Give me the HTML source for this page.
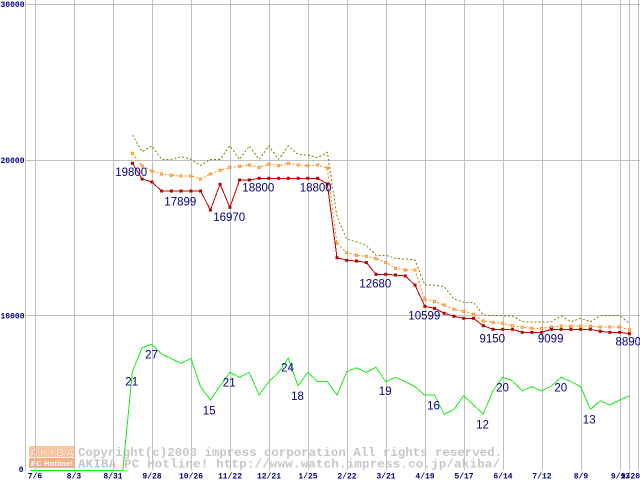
<!DOCTYPE html>
<html>
<head>
<meta charset="utf-8">
<style>
html,body{margin:0;padding:0;background:#fff;}
svg{display:block;}
.ax{font-family:"Liberation Mono",monospace;font-weight:bold;font-size:8px;fill:#000080;}
.lb{font-family:"Liberation Sans",sans-serif;font-size:11.5px;fill:#000080;}
.wm{font-family:"Liberation Mono",monospace;font-weight:bold;font-size:12.4px;fill:#c6c6c6;}
</style>
</head>
<body>
<svg width="640" height="480" viewBox="0 0 640 480" xmlns="http://www.w3.org/2000/svg">
<defs>
<marker id="mr" markerWidth="6" markerHeight="6" refX="3" refY="3" markerUnits="userSpaceOnUse">
<rect x="1.5" y="1.5" width="3" height="3" fill="#b80000"/>
</marker>
<marker id="mo" markerWidth="6" markerHeight="6" refX="3" refY="3" markerUnits="userSpaceOnUse">
<rect x="2" y="2" width="2" height="2" fill="#fff" stroke="#ff8a10" stroke-width="1" stroke-dasharray="none"/>
</marker>
</defs>
<rect x="0" y="0" width="640" height="480" fill="#fff"/>

<!-- watermark -->
<rect x="29" y="446" width="46" height="11" fill="#fbc8a2"/>
<text x="30" y="456" font-family="Liberation Sans, sans-serif" font-weight="bold" font-size="11" fill="#fff" stroke="#f2a878" stroke-width="0.5" textLength="44" lengthAdjust="spacing">AKIBA</text>
<rect x="29" y="458" width="46" height="10" fill="#f6ad80"/>
<text x="31" y="466" font-family="Liberation Sans, sans-serif" font-weight="bold" font-size="7.5" fill="#fff" textLength="42" lengthAdjust="spacing">PC Hotline!</text>
<text class="wm" x="78" y="456" textLength="424" lengthAdjust="spacing">Copyright(c)2003 impress corporation All rights reserved.</text>
<text class="wm" x="78" y="467.5" textLength="422" lengthAdjust="spacing">AKIBA PC Hotline!  http://www.watch.impress.co.jp/akiba/</text>

<!-- grid -->
<g stroke="#c0c0c0" stroke-width="1" shape-rendering="crispEdges">
<line x1="25.5" y1="0" x2="25.5" y2="471"/>
<line x1="35.5" y1="0" x2="35.5" y2="470"/>
<line x1="74.5" y1="0" x2="74.5" y2="470"/>
<line x1="113.5" y1="0" x2="113.5" y2="470"/>
<line x1="152.5" y1="0" x2="152.5" y2="470"/>
<line x1="191.5" y1="0" x2="191.5" y2="470"/>
<line x1="230.5" y1="0" x2="230.5" y2="470"/>
<line x1="269.5" y1="0" x2="269.5" y2="470"/>
<line x1="308.5" y1="0" x2="308.5" y2="470"/>
<line x1="347.5" y1="0" x2="347.5" y2="470"/>
<line x1="386.5" y1="0" x2="386.5" y2="470"/>
<line x1="425.5" y1="0" x2="425.5" y2="470"/>
<line x1="464.5" y1="0" x2="464.5" y2="470"/>
<line x1="503.5" y1="0" x2="503.5" y2="470"/>
<line x1="542.5" y1="0" x2="542.5" y2="470"/>
<line x1="581.5" y1="0" x2="581.5" y2="470"/>
<line x1="620.5" y1="0" x2="620.5" y2="470"/>
<line x1="629.5" y1="0" x2="629.5" y2="470"/>
<line x1="638.5" y1="0" x2="638.5" y2="470"/>
<line x1="25" y1="4.5" x2="640" y2="4.5"/>
<line x1="25" y1="160.5" x2="640" y2="160.5"/>
<line x1="25" y1="315.5" x2="640" y2="315.5"/>
</g>

<!-- y axis labels -->
<text class="ax" x="24.5" y="7" text-anchor="end">30000</text>
<text class="ax" x="24.5" y="163" text-anchor="end">20000</text>
<text class="ax" x="24.5" y="318.5" text-anchor="end">10000</text>
<text class="ax" x="23.5" y="472" text-anchor="end">0</text>

<!-- x axis labels -->
<g class="ax" text-anchor="middle">
<text x="35" y="478.5">7/6</text>
<text x="74" y="478.5">8/3</text>
<text x="113" y="478.5">8/31</text>
<text x="152" y="478.5">9/28</text>
<text x="191" y="478.5">10/26</text>
<text x="230" y="478.5">11/22</text>
<text x="269" y="478.5">12/21</text>
<text x="308" y="478.5">1/25</text>
<text x="347" y="478.5">2/22</text>
<text x="386" y="478.5">3/21</text>
<text x="425" y="478.5">4/19</text>
<text x="464" y="478.5">5/17</text>
<text x="503" y="478.5">6/14</text>
<text x="542" y="478.5">7/12</text>
<text x="581" y="478.5">8/9</text>
<text x="620.5" y="478.5">9/13</text>
</g>
<text class="ax" x="640" y="478.5" text-anchor="end">9/20</text>

<!-- olive max (dotted) -->
<polyline fill="none" stroke="#808000" stroke-width="1" stroke-dasharray="2,2" shape-rendering="crispEdges"
points="132.4,135 142.1,151.7 151.9,146 161.6,159.3 171.4,159.3 181.1,156.7 190.9,159.3 200.6,165.5 210.4,159.3 220.1,159.3 229.9,146 239.6,159.3 249.3,146 259.1,159.3 268.8,146 278.6,159.3 288.3,146 298.1,154.3 307.8,155 317.6,157.7 327.3,152.3 337.0,216.7 346.8,239.3 356.5,241.7 366.3,245 376.0,255.3 385.8,255.3 395.5,258.3 405.3,259 415.0,260 424.8,285 434.5,285 444.2,286.7 454.0,299 463.7,302.3 473.5,302.3 483.2,315 493.0,315.7 502.7,315.7 512.5,316 522.2,321.7 531.9,322 541.7,322 551.4,321.7 561.2,316 570.9,321.7 580.7,318.3 590.4,321.7 600.2,315.7 609.9,315.7 619.7,315.7 629.4,323.3"/>

<!-- orange average (dashed, hollow squares) -->
<polyline fill="none" stroke="#ff8a10" stroke-width="1" stroke-dasharray="2,2" shape-rendering="crispEdges"
marker-start="url(#mo)" marker-mid="url(#mo)" marker-end="url(#mo)"
points="132.4,153.3 142.1,165.7 151.9,171 161.6,174 171.4,175.3 181.1,176 190.9,176 200.6,179 210.4,174 220.1,170.3 229.9,167.3 239.6,166.3 249.3,165 259.1,167.3 268.8,164.3 278.6,165.7 288.3,163.3 298.1,165 307.8,165.7 317.6,165 327.3,168 337.0,243.3 346.8,252.7 356.5,255.3 366.3,256.3 376.0,258.7 385.8,262.5 395.5,268.3 405.3,270 415.0,270 424.8,299.3 434.5,301.7 444.2,305 454.0,309.3 463.7,311.3 473.5,314.3 483.2,321 493.0,322.3 502.7,323.3 512.5,325.7 522.2,327.3 531.9,328.3 541.7,328.3 551.4,327 561.2,326 570.9,326.3 580.7,326 590.4,326.3 600.2,327 609.9,327 619.7,327 629.4,330"/>

<!-- red min (solid, filled squares) -->
<polyline fill="none" stroke="#c00000" stroke-width="1" shape-rendering="crispEdges"
marker-start="url(#mr)" marker-mid="url(#mr)" marker-end="url(#mr)"
points="132.4,163.3 142.1,179 151.9,182 161.6,191 171.4,191 181.1,191 190.9,191 200.6,191 210.4,210 220.1,184.3 229.9,207.3 239.6,180 249.3,180 259.1,178.3 268.8,178.3 278.6,178.3 288.3,178.3 298.1,178.3 307.8,178.3 317.6,178.3 327.3,184 337.0,257.7 346.8,260.3 356.5,261 366.3,262.5 376.0,274.3 385.8,274.3 395.5,275 405.3,276 415.0,285 424.8,306.3 434.5,308.3 444.2,313.3 454.0,316.3 463.7,318.3 473.5,318.3 483.2,325.7 493.0,329.3 502.7,329.3 512.5,329.3 522.2,332.3 531.9,332.3 541.7,332.3 551.4,329.3 561.2,329.3 570.9,329.3 580.7,329.3 590.4,329.3 600.2,331.3 609.9,332.3 619.7,332.3 629.4,333.7"/>

<!-- green count -->
<polyline fill="none" stroke="#18ee18" stroke-width="1" shape-rendering="crispEdges"
points="30,470.5 122.8,470.5 132.4,371.7 142.1,347.7 151.9,344.3 161.6,354 171.4,358.7 181.1,363.3 190.9,358.3 200.6,386.7 210.4,400 220.1,386 229.9,372.3 239.6,377.3 249.3,372.3 259.1,395 268.8,381.7 278.6,372.3 288.3,358.3 298.1,386 307.8,372.3 317.6,381.7 327.3,381.7 337.0,395 346.8,371.7 356.5,367.7 366.3,372.3 376.0,367.3 385.8,381.7 395.5,377.3 405.3,381.7 415.0,386.7 424.8,395 434.5,395 444.2,414.3 454.0,409.3 463.7,395.7 473.5,405 483.2,414 493.0,390.7 502.7,377.3 512.5,380.7 522.2,391 531.9,386.7 541.7,391 551.4,386 561.2,377.3 570.9,381.7 580.7,386.7 590.4,409.3 600.2,400.7 609.9,405 619.7,400 629.4,395.7"/>

<!-- price labels -->
<g class="lb" text-anchor="middle">
<text x="131.2" y="176">19800</text>
<text x="180.3" y="205.6">17899</text>
<text x="229.2" y="221">16970</text>
<text x="258.3" y="191.6">18800</text>
<text x="315.7" y="191.6">18800</text>
<text x="375.3" y="287.3">12680</text>
<text x="424.3" y="319.3">10599</text>
<text x="492.3" y="342.6">9150</text>
<text x="550.7" y="342.6">9099</text>
<text x="628.3" y="345.6">8890</text>
</g>

<!-- count labels -->
<g class="lb" text-anchor="middle">
<text x="131.7" y="385.3">21</text>
<text x="151.5" y="358.3">27</text>
<text x="209.2" y="414.3">15</text>
<text x="229.2" y="386.6">21</text>
<text x="287.5" y="371.6">24</text>
<text x="297.5" y="400">18</text>
<text x="385.2" y="395">19</text>
<text x="433.5" y="409.3">16</text>
<text x="482.5" y="428.3">12</text>
<text x="502.5" y="391.6">20</text>
<text x="560.8" y="391.6">20</text>
<text x="589.2" y="423.3">13</text>
</g>
</svg>
</body>
</html>
